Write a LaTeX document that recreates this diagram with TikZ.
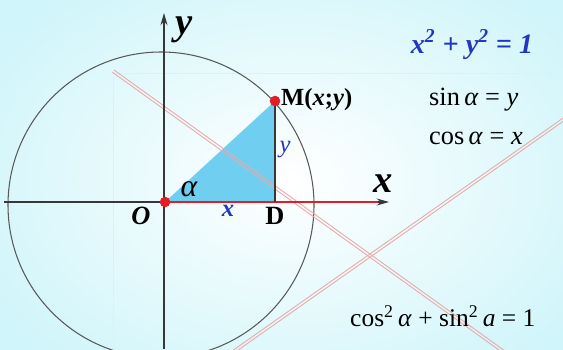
\documentclass[tikz,border=0pt]{standalone}
\usepackage{fontspec}
\setmainfont{Liberation Serif}
\usepackage{xcolor}
\usetikzlibrary{arrows.meta,positioning}

\definecolor{skyfill}{RGB}{112,206,240}
\definecolor{dotred}{RGB}{226,30,36}
\definecolor{pinkrule}{RGB}{236,168,170}
\definecolor{bgcyan}{RGB}{208,245,250}
\definecolor{eqblue}{RGB}{35,55,190}
\definecolor{axisgray}{RGB}{55,55,55}

\begin{document}
\begin{tikzpicture}[x=0.02cm, y=-0.02cm,
    axis/.style={draw=axisgray, line width=0.65pt},
    unitcircle/.style={draw=black!65, line width=0.6pt},
    faint/.style={draw=black!8, line width=0.5pt},
    pinkthin/.style={draw=pinkrule, line width=0.5pt},
    reddot/.style={circle, fill=dotred, inner sep=0pt, minimum size=6pt},
    bigvar/.style={font=\fontsize{22}{22}\selectfont\bfseries\itshape},
    ptlabel/.style={font=\fontsize{14}{14}\selectfont\bfseries},
    bluevar/.style={text=eqblue, font=\fontsize{14}{14}\selectfont\bfseries\itshape},
    formula/.style={anchor=west, font=\fontsize{15}{15}\selectfont}
    ]
    \useasboundingbox (0,0) rectangle (563,349);
    \clip (0,0) rectangle (563,349);
    \shade[inner color=white, outer color=bgcyan] (-60,-60) rectangle (640,420);

    % slide frame lines
    \coordinate (fa) at (113,73);
    \coordinate (fb) at (563,73);
    \coordinate (fc) at (113,349);
    \draw[faint] (fb) -- (fa) -- (fc);

    % points
    \coordinate (O) at (165,202);
    \coordinate (M) at (275,101);
    \coordinate (D) at (275,202);
    \coordinate (C) at (161,205);

    \draw[unitcircle] (C) circle[radius=153];
    \fill[skyfill] (O) -- (M) -- (D) -- cycle;

    % pink crossing lines, two thin strokes each
    \coordinate (p1) at (114,70);
    \coordinate (p2) at (505,351);
    \coordinate (q1) at (566,116);
    \coordinate (q2) at (232,351);
    \draw[pinkthin] (p1) -- (p2);
    \draw[pinkthin] ([shift={(-1.6,2.2)}]p1) -- ([shift={(-1.6,2.2)}]p2);
    \draw[pinkthin] (q1) -- (q2);
    \draw[pinkthin] ([shift={(1.6,2.2)}]q1) -- ([shift={(1.6,2.2)}]q2);

    % axes
    \coordinate (xl) at (4,202);
    \coordinate (xr) at (389,202);
    \coordinate (yb) at (164,349);
    \coordinate (yt) at (164,13);
    \draw[axis, -{Stealth[length=7pt, width=4pt]}] (xl) -- (xr);
    \draw[axis, -{Stealth[length=7pt, width=4pt]}] (yb) -- (yt);
    \coordinate (xe) at (378,202);
    \draw[dotred, line width=1.1pt] (O) -- (xe);
    \draw[axis] (M) -- (D);

    \node[reddot] (dotO) at (O) {};
    \node[reddot] (dotM) at (M) {};

    % labels
    \node[bigvar] (lblY) at (184,30) {y};
    \node[bigvar] (lblX) at (383,184) {x};
    \node[ptlabel, font=\fontsize{15}{15}\selectfont\bfseries\itshape] (lblO) at (141,216) {O};
    \node[ptlabel, font=\fontsize{15}{15}\selectfont\bfseries] (lblD) at (275,216) {D};
    \node[bluevar] (lblx) at (228,211) {x};
    \node[bluevar, font=\fontsize{14}{14}\selectfont\itshape] (lbly) at (285,150) {y};
    \node[font=\fontsize{18}{18}\selectfont\itshape] (lblalpha) at (189,189) {α};
    \node[ptlabel, anchor=west, inner sep=1pt] (lblM) at (279,100) {M(\textit{x};\textit{y})};

    % formulas
    \node[text=eqblue, font=\fontsize{16}{16}\selectfont\bfseries\itshape] (eqcircle) at (472,45)
      {x\textsuperscript{2} + y\textsuperscript{2} = 1};
    \node[formula] (eqsin) at (423,100) {sin\,\textit{α} = \textit{y}};
    \node[formula] (eqcos) at (423,138) {cos\,\textit{α} = \textit{x}};
    \node[formula, font=\fontsize{14.5}{14.5}\selectfont] (eqident) at (344,316)
      {cos\textsuperscript{2}\,\textit{α} + sin\textsuperscript{2}\,\textit{a} = 1};
\end{tikzpicture}
\end{document}
